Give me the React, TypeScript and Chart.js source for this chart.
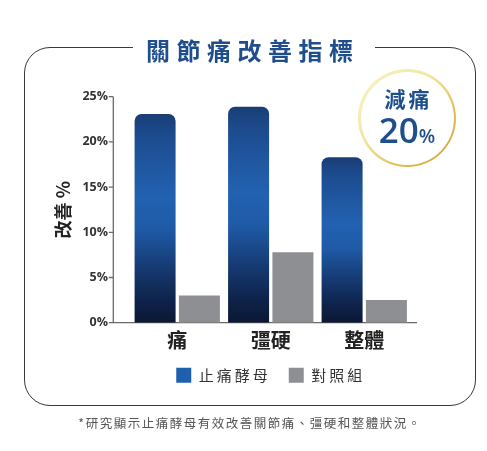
import React, { useEffect, useRef } from "react";
import { Chart, registerables } from "chart.js";

Chart.register(...registerables);

const categories = ["痛", "彊硬", "整體"];
const enzymeValues = [23.1, 23.9, 18.3];
const controlValues = [3.0, 7.8, 2.5];
const seriesNames = ["止痛酵母", "對照組"];
const seriesColors = ["#1f60ae", "#8e8f93"];
const yMax = 25;
const yStep = 5;
const chartTitle = "關節痛改善指標";
const yTitle = "改善 %";
const badgeTop = "減痛";
const badgeNumber = "20";
const footNote = "*研究顯示止痛酵母有效改善關節痛、彊硬和整體狀況。";

const CJK = "'Noto Sans CJK TC', 'Noto Sans', sans-serif";

const axisPlugin = {
  id: "customAxes",
  beforeDatasetsDraw(chart: any) {
    const { ctx, chartArea, scales } = chart;
    const y = scales.y;
    const ax = chartArea.left - 17.2;
    const y0 = y.getPixelForValue(0);
    const yTop = y.getPixelForValue(yMax);
    ctx.save();
    ctx.strokeStyle = "#6a6a6a";
    ctx.lineWidth = 1.3;
    ctx.beginPath();
    ctx.moveTo(ax, yTop);
    ctx.lineTo(ax, y0);
    ctx.lineTo(chartArea.right + 6, y0);
    y.ticks.forEach((t: any) => {
      const py = y.getPixelForValue(t.value);
      ctx.moveTo(ax - 4.5, py);
      ctx.lineTo(ax, py);
    });
    ctx.stroke();
    ctx.restore();
  },
};

function blueFill(c: any) {
  const chart = c.chart;
  if (c.type !== "data" || !chart.chartArea) return seriesColors[0];
  const y = chart.scales.y;
  const top = y.getPixelForValue(c.raw);
  const bot = y.getPixelForValue(0);
  const g = chart.ctx.createLinearGradient(0, top, 0, bot);
  g.addColorStop(0, "#193d75");
  g.addColorStop(0.1, "#1c4b8e");
  g.addColorStop(0.4, "#2262b2");
  g.addColorStop(0.55, "#1f5aa6");
  g.addColorStop(0.75, "#15386f");
  g.addColorStop(0.9, "#0e2249");
  g.addColorStop(1, "#0b1733");
  return g;
}

export default function App() {
  const ref = useRef<HTMLCanvasElement>(null);

  useEffect(() => {
    if (!ref.current) return;
    const chart = new Chart(ref.current, {
      type: "bar",
      data: {
        labels: categories,
        datasets: [
          {
            label: seriesNames[0],
            data: enzymeValues,
            backgroundColor: blueFill as any,
            borderRadius: { topLeft: 7, topRight: 7, bottomLeft: 0, bottomRight: 0 },
            borderSkipped: false,
            categoryPercentage: 0.948,
            barPercentage: 0.925,
          },
          {
            label: seriesNames[1],
            data: controlValues,
            backgroundColor: seriesColors[1],
            borderRadius: 0,
            categoryPercentage: 0.948,
            barPercentage: 0.925,
          },
        ],
      },
      options: {
        animation: false,
        responsive: true,
        maintainAspectRatio: false,
        layout: { padding: { left: 48, right: 76, top: 96.7, bottom: 58.3 } },
        plugins: {
          legend: {
            position: "bottom",
            fullSize: false,
            labels: {
              boxWidth: 15,
              boxHeight: 15,
              padding: 18,
              color: "#333",
              font: { family: CJK, size: 15 },
              generateLabels: (ch: any) => {
                const items = (Chart.defaults.plugins.legend.labels as any).generateLabels(ch);
                items.forEach((it: any, i: number) => {
                  it.fillStyle = seriesColors[i];
                  it.strokeStyle = seriesColors[i];
                  it.lineWidth = 0;
                });
                return items;
              },
            },
          },
          tooltip: { enabled: false },
        },
        scales: {
          x: {
            grid: { display: false, drawTicks: false },
            border: { display: false },
            ticks: {
              padding: 6,
              color: "#222",
              font: { family: CJK, size: 20, weight: "bold" },
            },
            afterFit: (s: any) => {
              s.height = 27;
            },
          },
          y: {
            min: 0,
            max: yMax,
            grid: { display: false, drawTicks: false },
            border: { display: false },
            ticks: {
              stepSize: yStep,
              padding: 22.5,
              color: "#333",
              font: { family: "'Open Sans', sans-serif", size: 12.5, weight: "bold" },
              callback: (v: any) => v + "%",
            },
            title: {
              display: true,
              text: yTitle,
              color: "#222",
              font: { family: CJK, size: 18, weight: "bold" },
            },
            afterFit: (s: any) => {
              s.width = 82.5;
            },
          },
        },
      },
      plugins: [axisPlugin],
    });

    // letter spacing for legend text only
    const lg: any = (chart as any).legend;
    if (lg) {
      const origFit = lg.fit.bind(lg);
      const origDraw = lg.draw.bind(lg);
      const withSpacing = (fn: () => void) => {
        const c: any = chart.ctx;
        const prev = c.letterSpacing;
        c.letterSpacing = "3px";
        fn();
        c.letterSpacing = prev || "0px";
      };
      lg.fit = () => withSpacing(origFit);
      lg.draw = (area: any) => withSpacing(() => origDraw(area));
      chart.update();
    }
    return () => chart.destroy();
  }, []);

  return (
    <div
      style={{
        position: "absolute",
        left: 0,
        top: 0,
        width: 487,
        height: 451,
        background: "#fff",
        overflow: "hidden",
      }}
    >
      <div
        style={{
          position: "absolute",
          left: 24.25,
          top: 47.25,
          width: 451.5,
          height: 358.5,
          boxSizing: "border-box",
          border: "1.5px solid #3a3a3a",
          borderRadius: 26,
        }}
      />
      <div style={{ position: "absolute", left: 0, top: 0, width: 487, height: 451 }}>
        <canvas ref={ref} />
      </div>
      <div
        style={{
          position: "absolute",
          left: 133,
          top: 35,
          lineHeight: "30px",
          background: "#fff",
          padding: "0 15.5px 0 13px",
          fontFamily: CJK,
          fontSize: 24,
          fontWeight: 700,
          letterSpacing: "6.5px",
          color: "#1e4e8c",
          whiteSpace: "nowrap",
        }}
      >
        {chartTitle}
      </div>
      <div
        style={{
          position: "absolute",
          left: 358,
          top: 69,
          width: 98,
          height: 98,
          borderRadius: "50%",
          background:
            "linear-gradient(135deg, #f8f6cc 0%, #f0e6a0 40%, #e0bd52 72%, #c99a2e 100%)",
        }}
      >
        <div
          style={{
            position: "absolute",
            left: 2.5,
            top: 2.5,
            right: 2.5,
            bottom: 2.5,
            borderRadius: "50%",
            background: "#fff",
          }}
        />
        <div
          style={{
            position: "absolute",
            left: 0,
            width: 98,
            top: 16,
            lineHeight: "26px",
            textAlign: "center",
            fontFamily: CJK,
            fontSize: 21,
            fontWeight: 700,
            letterSpacing: "3px",
            textIndent: "3px",
            color: "#1e4e8c",
          }}
        >
          {badgeTop}
        </div>
        <div
          style={{
            position: "absolute",
            left: 0,
            width: 98,
            top: 41,
            lineHeight: "40px",
            textAlign: "center",
            fontFamily: "'Open Sans', sans-serif",
            fontWeight: 600,
            color: "#1e4e8c",
            whiteSpace: "nowrap",
          }}
        >
          <span style={{ fontSize: 35 }}>{badgeNumber}</span>
          <span style={{ fontSize: 19 }}>%</span>
        </div>
      </div>
      <div
        style={{
          position: "absolute",
          left: 0,
          width: 500,
          top: 415,
          lineHeight: "16px",
          textAlign: "center",
          fontFamily: CJK,
          fontSize: 12.5,
          letterSpacing: "1.5px",
          color: "#555",
          whiteSpace: "nowrap",
        }}
      >
        {footNote}
      </div>
    </div>
  );
}
